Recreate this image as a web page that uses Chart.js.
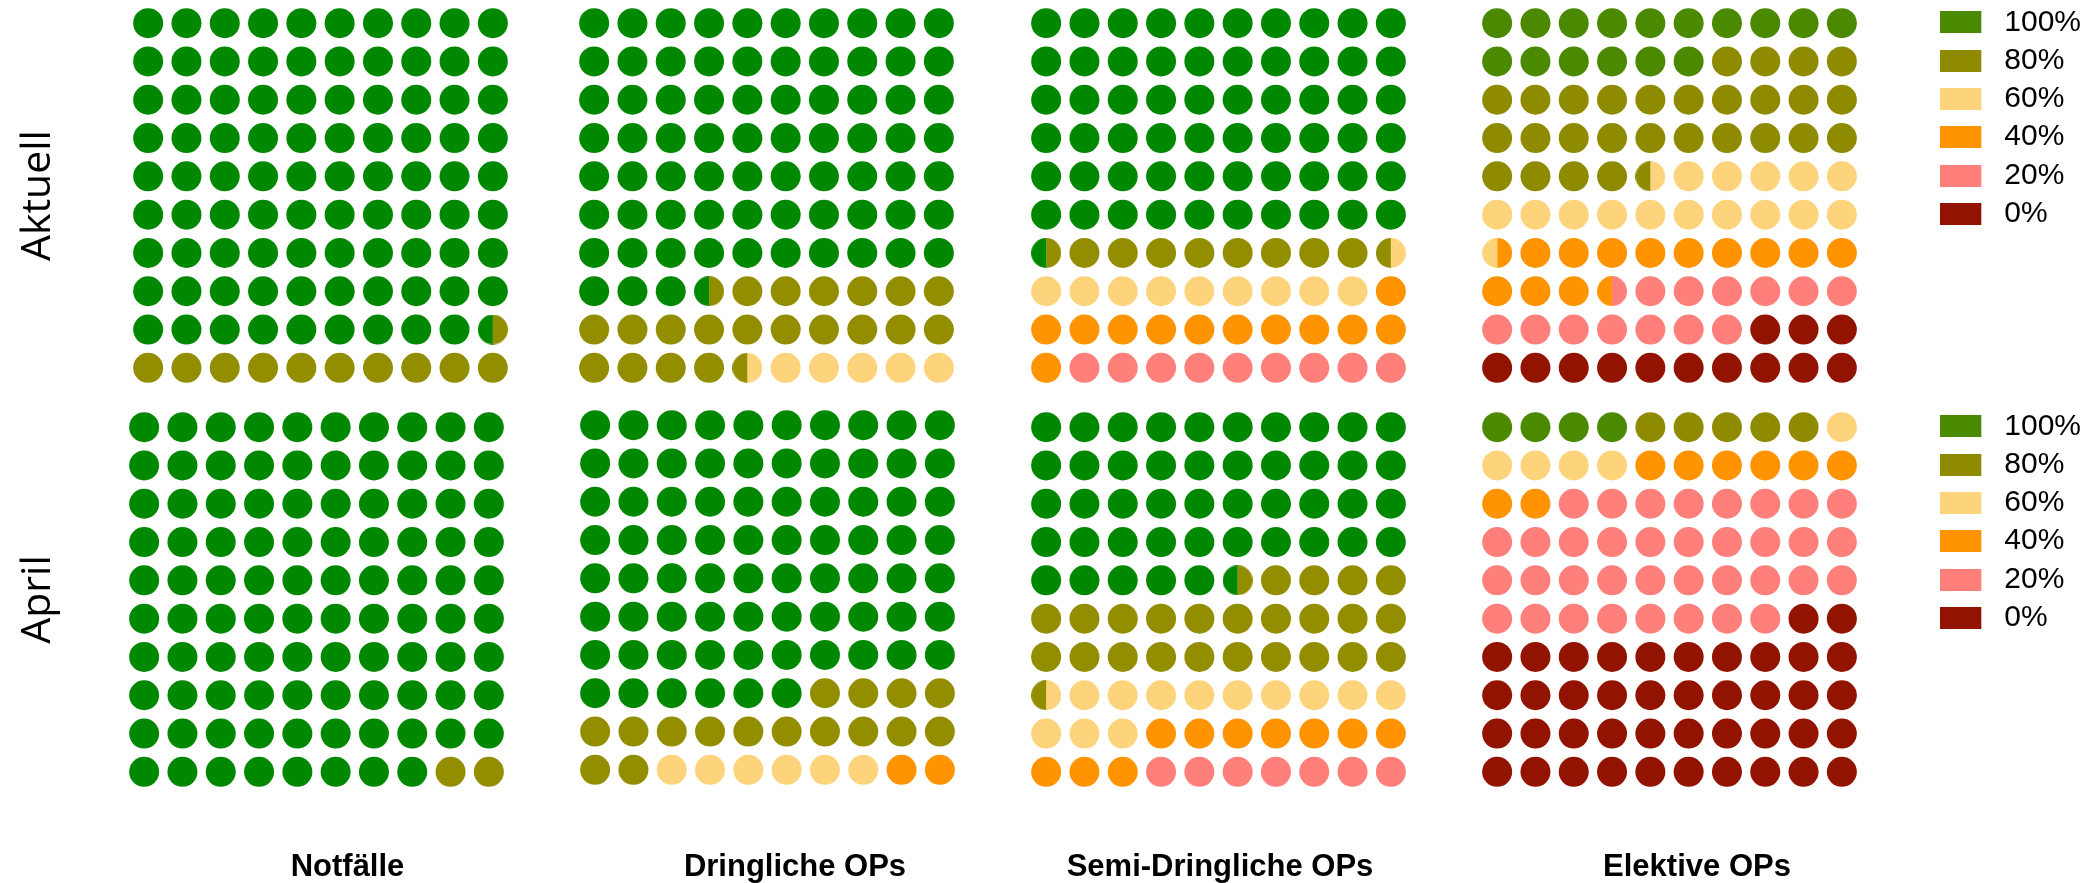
<!DOCTYPE html>
<html>
<head>
<meta charset="utf-8">
<script src="https://cdn.jsdelivr.net/npm/chart.js@4.4.1/dist/chart.umd.min.js"></script>
<style>
html,body{margin:0;padding:0;background:#fff;overflow:hidden;}
#wrap{position:relative;width:2095px;height:883px;overflow:hidden;background:#fff;}
#wrap canvas{position:absolute;}
</style>
</head>
<body>
<div id="wrap"></div>
<script>
// ---------------- data ----------------
const categories = ['100%', '80%', '60%', '40%', '20%', '0%'];
const panelTitles = ['Notfälle', 'Dringliche OPs', 'Semi-Dringliche OPs', 'Elektive OPs'];
const rowTitles = ['Aktuell', 'April'];
// circles (out of 100) per category; halves shown as split circles
const notfaelleAktuell  = [89.5, 10.5, 0, 0, 0, 0];
const dringlicheAktuell = [73.5, 21, 5.5, 0, 0, 0];
const semiAktuell       = [60.5, 9, 9.5, 12, 9, 0];
const elektiveAktuell   = [16, 28.5, 16, 13, 13.5, 13];
const notfaelleApril    = [98, 2, 0, 0, 0, 0];
const dringlicheApril   = [76, 16, 6, 2, 0, 0];
const semiApril         = [45.5, 25, 12.5, 10, 7, 0];
const elektiveApril     = [4, 5, 5, 8, 36, 42];

const panelData = [
  [notfaelleAktuell, dringlicheAktuell, semiAktuell, elektiveAktuell],
  [notfaelleApril, dringlicheApril, semiApril, elektiveApril]
];

// ---------------- styles / layout ----------------
const paletteMain     = ['#008800', '#938E00', '#FDD47B', '#FF9400', '#FF7F7A', '#901200'];
const paletteElektive = ['#4B8A00', '#8F8B00', '#FDD47B', '#FF9400', '#FF7F7A', '#921300'];
const legendColors = paletteElektive;

const W = 2095, H = 883;
const S = 383;                 // panel (chart area) size
const PITCH = S / 10;
const R = 15;                  // circle radius
// chart-area origin (left, top) of each panel
const panelOrigin = [
  [[129, 4], [575, 4], [1027, 4], [1478, 4]],
  [[125, 408], [576, 406], [1027, 408], [1478, 408]]
];
// extra x-range (px) on the right so the bottom titles sit where they do in the reference
const titleShift = [62, 55, 3, 55];

Chart.defaults.font.family = "'Liberation Sans', Arial, sans-serif";
Chart.defaults.color = '#000';

const wrap = document.getElementById('wrap');

function halfImage(color, side) {
  const c = document.createElement('canvas');
  c.width = 2 * R; c.height = 2 * R;
  const g = c.getContext('2d');
  g.fillStyle = color;
  g.beginPath();
  g.moveTo(R, R);
  if (side === 'L') g.arc(R, R, R, Math.PI / 2, Math.PI * 1.5);
  else g.arc(R, R, R, -Math.PI / 2, Math.PI / 2);
  g.closePath();
  g.fill();
  return c;
}

function waffleDatasets(counts, palette) {
  const halves = [];
  counts.forEach((c, k) => { for (let n = 0; n < Math.round(c * 2); n++) halves.push(k); });
  const pts = categories.map(() => []);
  for (let cell = 0; cell < 100; cell++) {
    const a = halves[2 * cell], b = halves[2 * cell + 1];
    if (a === undefined) continue;
    const x = cell % 10 + 1, y = Math.floor(cell / 10) + 1;
    if (a === b || b === undefined) pts[a].push({x, y, s: 'F'});
    else { pts[a].push({x, y, s: 'L'}); pts[b].push({x, y, s: 'R'}); }
  }
  return categories.map((cat, k) => {
    const imgL = halfImage(palette[k], 'L'), imgR = halfImage(palette[k], 'R');
    return {
      label: cat,
      data: pts[k],
      backgroundColor: palette[k],
      borderWidth: 0,
      pointRadius: R,
      pointBorderWidth: 0,
      pointHoverRadius: R,
      clip: false,
      pointStyle: ctx => {
        const s = ctx.raw && ctx.raw.s;
        return s === 'L' ? imgL : s === 'R' ? imgR : 'circle';
      }
    };
  });
}

function addCanvas(left, top, w, h) {
  const c = document.createElement('canvas');
  c.width = w; c.height = h;
  c.style.left = left + 'px'; c.style.top = top + 'px';
  c.style.width = w + 'px'; c.style.height = h + 'px';
  wrap.appendChild(c);
  return c;
}

for (let i = 0; i < 2; i++) {
  for (let j = 0; j < 4; j++) {
    const [ox, oy] = panelOrigin[i][j];
    const hasY = j === 0, hasX = i === 1;
    const yW = hasY ? ox : 0;
    const ext = hasX ? titleShift[j] : 0;
    const xH = hasX ? H - (oy + S) : 0;
    const cv = addCanvas(hasY ? 0 : ox, oy, yW + S + ext, S + xH);
    const palette = j === 3 ? paletteElektive : paletteMain;
    new Chart(cv, {
      type: 'scatter',
      data: { datasets: waffleDatasets(panelData[i][j], palette) },
      options: {
        responsive: false,
        animation: false,
        events: [],
        layout: { padding: 0, autoPadding: false },
        plugins: { legend: { display: false }, tooltip: { enabled: false } },
        scales: {
          x: {
            type: 'linear', min: 0.5, max: 10.5 + ext / PITCH,
            display: hasX,
            grid: { display: false }, border: { display: false },
            ticks: { display: false },
            title: {
              display: hasX, text: panelTitles[j], color: '#000',
              font: { family: "'Liberation Sans', Arial, sans-serif", size: 31, weight: 'bold', lineHeight: 1 },
              padding: { top: 0, bottom: 0 }
            },
            afterFit: s => { if (hasX) s.height = xH; }
          },
          y: {
            type: 'linear', min: 0.5, max: 10.5, reverse: true,
            display: hasY,
            grid: { display: false }, border: { display: false },
            ticks: { display: false },
            title: {
              display: hasY, text: rowTitles[i], color: '#000',
              font: { family: "'Open Sans', sans-serif", size: 41, weight: 'normal', lineHeight: 1.2 },
              padding: { top: 14, bottom: 0 }
            },
            afterFit: s => { if (hasY) s.width = yW; }
          }
        }
      }
    });
  }
}

// ---------------- legends ----------------
function legendImage(color) {
  const c = document.createElement('canvas');
  c.width = 49; c.height = 22;
  const g = c.getContext('2d');
  g.fillStyle = color;
  g.fillRect(0, 0, 41, 22);
  return c;
}
const legendImgs = legendColors.map(legendImage);
const legendTop = [-1, 403];
legendTop.forEach(t => {
  const cv = addCanvas(1932, t, 400, 250);
  new Chart(cv, {
    type: 'scatter',
    data: { datasets: categories.map((c, k) => ({ label: c, data: [], backgroundColor: legendColors[k], borderWidth: 0 })) },
    options: {
      responsive: false, animation: false, events: [],
      layout: { padding: 0, autoPadding: false },
      scales: { x: { display: false }, y: { display: false } },
      plugins: {
        tooltip: { enabled: false },
        legend: {
          display: true, position: 'left', align: 'start',
          labels: {
            usePointStyle: true, pointStyleWidth: 49,
            boxWidth: 49, boxHeight: 22, padding: 8.3, color: '#000',
            font: { family: "'Liberation Sans', Arial, sans-serif", size: 30 },
            generateLabels: () => categories.map((c, k) => ({
              text: c, fillStyle: legendColors[k], strokeStyle: legendColors[k],
              lineWidth: 0, pointStyle: legendImgs[k], hidden: false, datasetIndex: k, fontColor: '#000'
            }))
          }
        }
      }
    }
  });
});
</script>
</body>
</html>
